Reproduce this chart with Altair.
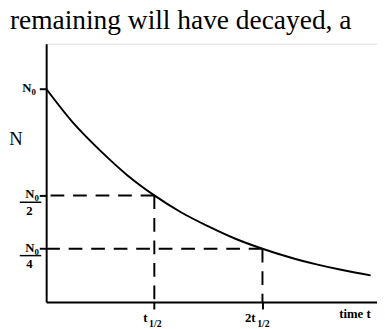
import altair as alt
import pandas as pd

# Decay curve: time in half-lives, N as a fraction of N0
t_vals = [0, 0.25, 0.5, 0.75, 1.0, 1.25, 1.5, 1.75, 2.0, 2.25, 2.5, 2.75, 3.0]
n_vals = [1.0, 0.84, 0.71, 0.595, 0.5, 0.42, 0.355, 0.297, 0.25, 0.21, 0.177, 0.149, 0.125]

# dashed guide lines (corner points)
guide_t = [1, 2]
guide_n = [0.5, 0.25]

# tick values and labels
ytick_vals = [1, 0.5, 0.25]
ytick_denoms = ["", "2", "4"]
xtick_vals = [1, 2]
xtick_prefix = ["t", "2t"]
xtick_sub = ["1/2", "1/2"]

title_text = "remaining will have decayed, a"
y_title = "N"
x_title = "time t"

SERIF = "Liberation Serif"

curve_df = pd.DataFrame({"t": t_vals, "n": n_vals})
guide_df = pd.DataFrame({"t": guide_t, "n": guide_n, "zero": [0, 0]})
ylab_df = pd.DataFrame({"v": ytick_vals, "den": ytick_denoms, "x0": [0, 0, 0]})
xlab_df = pd.DataFrame({"t": xtick_vals, "pre": xtick_prefix, "sub": xtick_sub, "y0": [0, 0]})

xs = alt.Scale(domain=[0, 3.059], nice=False, zero=False)
ys = alt.Scale(domain=[0, 1.211], nice=False, zero=False)

xaxis = alt.Axis(
    values=xtick_vals, labels=False, grid=False, ticks=True, tickSize=7,
    tickWidth=2, tickColor="black", domainColor="black", domainWidth=2,
    title=x_title, titleX=331, titleY=16, titleAlign="right",
    titleBaseline="alphabetic", titleFont=SERIF, titleFontSize=13,
    titleFontWeight="bold", titleColor="black")
yaxis = alt.Axis(
    values=ytick_vals, labels=False, grid=False, ticks=True, tickSize=7,
    tickWidth=2, tickColor="black", domainColor="black", domainWidth=2,
    title=y_title, titleAngle=0, titleX=-31.5, titleY=97, titleAlign="center",
    titleBaseline="middle", titleFont=SERIF, titleFontSize=19,
    titleFontWeight="normal", titleColor="black")


def X(field):
    return alt.X(field, scale=xs, axis=xaxis)


def Y(field):
    return alt.Y(field, scale=ys, axis=yaxis)


curve = alt.Chart(curve_df).mark_line(
    color="black", strokeWidth=2, interpolate="monotone"
).encode(x=X("t:Q"), y=Y("n:Q"))

hguide = alt.Chart(guide_df).mark_rule(
    color="black", strokeWidth=2, strokeDash=[14, 9]
).encode(x=X("t:Q"), x2="zero:Q", y=Y("n:Q"))

vguide = alt.Chart(guide_df).mark_rule(
    color="black", strokeWidth=2, strokeDash=[14, 9]
).encode(x=X("t:Q"), y=Y("n:Q"), y2="zero:Q")

# y labels: N0 at top
top_N = alt.Chart(ylab_df).transform_filter("datum.v == 1").mark_text(
    text="N", font=SERIF, fontSize=13, fontWeight="bold", align="right",
    baseline="alphabetic", dx=-15, dy=3, color="black"
).encode(x=X("x0:Q"), y=Y("v:Q"))

top_0 = alt.Chart(ylab_df).transform_filter("datum.v == 1").mark_text(
    text="0", font=SERIF, fontSize=9, fontWeight="bold", align="left",
    baseline="alphabetic", dx=-15, dy=6, color="black"
).encode(x=X("x0:Q"), y=Y("v:Q"))

# fraction labels N0/2 and N0/4
frac_N = alt.Chart(ylab_df).transform_filter("datum.v < 1").mark_text(
    text="N", font=SERIF, fontSize=13, fontWeight="bold", align="right",
    baseline="alphabetic", dx=-12, dy=3, color="black"
).encode(x=X("x0:Q"), y=Y("v:Q"))

frac_0 = alt.Chart(ylab_df).transform_filter("datum.v < 1").mark_text(
    text="0", font=SERIF, fontSize=9, fontWeight="bold", align="left",
    baseline="alphabetic", dx=-12, dy=6, color="black"
).encode(x=X("x0:Q"), y=Y("v:Q"))

frac_bar = alt.Chart(ylab_df).transform_filter("datum.v < 1").mark_rule(
    color="black", strokeWidth=1.5, yOffset=7
).encode(x=alt.value(-27), x2=alt.value(-5), y=Y("v:Q"))

frac_den = alt.Chart(ylab_df).transform_filter("datum.v < 1").mark_text(
    font=SERIF, fontSize=13, fontWeight="bold", align="center",
    baseline="alphabetic", dx=-17, dy=20, color="black"
).encode(x=X("x0:Q"), y=Y("v:Q"), text="den:N")

# x labels t1/2 and 2t1/2
x_pre = alt.Chart(xlab_df).mark_text(
    font=SERIF, fontSize=13, fontWeight="bold", align="right",
    baseline="alphabetic", dx=-7, dy=20, color="black"
).encode(x=X("t:Q"), y=Y("y0:Q"), text="pre:N")

x_sub = alt.Chart(xlab_df).mark_text(
    font=SERIF, fontSize=10, fontWeight="bold", align="center",
    baseline="alphabetic", dx=1, dy=25, color="black"
).encode(x=X("t:Q"), y=Y("y0:Q"), text="sub:N")

chart = alt.layer(
    curve, hguide, vguide, top_N, top_0, frac_N, frac_0, frac_bar, frac_den, x_pre, x_sub
).properties(
    width=338, height=264,
    autosize=alt.AutoSizeParams(type="none"),
    padding={"left": 39, "top": 33, "right": 0, "bottom": 24},
    title=alt.TitleParams(
        text=title_text, font=SERIF, fontSize=28, fontWeight="normal", color="black",
        anchor="start", frame="group", dx=-37, dy=30, offset=17, baseline="alphabetic"),
).configure_view(stroke=None).configure(background="white")

chart.save("out.html", embed_options={"renderer": "svg", "actions": False})
